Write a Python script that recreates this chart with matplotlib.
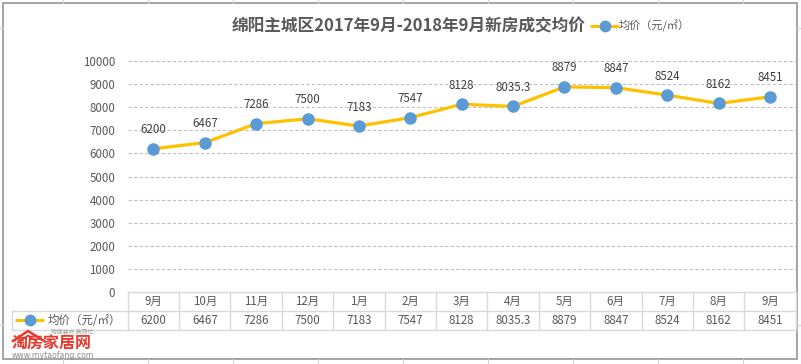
import matplotlib.pyplot as plt
from matplotlib.transforms import blended_transform_factory
from matplotlib.patches import Rectangle

plt.rcParams['font.family'] = ['Noto Sans CJK SC', 'DejaVu Sans']

months = ['9月', '10月', '11月', '12月', '1月', '2月', '3月', '4月', '5月', '6月', '7月', '8月', '9月']
price = [6200, 6467, 7286, 7500, 7183, 7547, 8128, 8035.3, 8879, 8847, 8524, 8162, 8451]
yticks = [0, 1000, 2000, 3000, 4000, 5000, 6000, 7000, 8000, 9000, 10000]
series_name = '均价（元/㎡）'
title = '绵阳主城区2017年9月-2018年9月新房成交均价'

W, H = 801, 364
LINE = '#FFC000'
DOT = '#5B9BD5'
TXT = '#595959'
GRID = '#D9D9D9'

fig = plt.figure(figsize=(W / 100, H / 100), dpi=100)

# overlay in pixel coords (top-left origin) for frame, table, legend, logo
bg = fig.add_axes([0, 0, 1, 1])
bg.set_xlim(0, W)
bg.set_ylim(H, 0)
bg.axis('off')

# excel sheet gridlines peeking out around the chart
for x in [63, 148, 233, 318, 403, 488, 573, 658, 743]:
    bg.plot([x, x], [0, 3], color='#D4D4D4', lw=0.8)
    bg.plot([x, x], [359, H], color='#D4D4D4', lw=0.8)
for y in [28, 325]:
    bg.plot([0, 2.5], [y, y], color='#D4D4D4', lw=0.8)
    bg.plot([797, W], [y, y], color='#D4D4D4', lw=0.8)

# chart frame
bg.add_patch(Rectangle((2.5, 3.2), 794.5, 355.8, fill=False, edgecolor='#8C8C8C', lw=1.1))

# title
bg.text(409, 26, title, ha='center', va='center', fontsize=12, fontweight='bold', color=TXT)

# legend at top
bg.plot([590, 619], [26, 26], color=LINE, lw=2.2, solid_capstyle='butt')
bg.plot([605], [26], 'o', color=DOT, ms=7.5)
bg.text(619, 26, series_name, ha='left', va='center', fontsize=8, color=TXT)

# main plot
left, right, top, bot = 127.7, 795.7, 61, 292
ax = fig.add_axes([left / W, 1 - bot / H, (right - left) / W, (bot - top) / H])
ax.set_facecolor('none')
ax.set_zorder(2)
n = len(months)
xs = list(range(n))
ax.set_xlim(-0.5, n - 0.5)
ax.set_ylim(0, 10000)
ax.set_yticks(yticks)
ax.set_yticklabels([str(v) for v in yticks], fontsize=8.3, color=TXT)
ax.tick_params(axis='y', length=0, pad=9)
ax.set_xticks([])
for s in ax.spines.values():
    s.set_visible(False)
for v in yticks[1:]:
    ax.axhline(v, color='#BFBFBF', lw=0.8, ls=(0, (3, 2)), zorder=0)

ax.plot(xs, price, color=LINE, lw=2.3, zorder=3, clip_on=False)
ax.plot(xs, price, 'o', color=DOT, ms=8, zorder=4, clip_on=False)
for x, v in zip(xs, price):
    ax.annotate('{:g}'.format(v), (x, v), xytext=(0, 19), textcoords='offset pixels',
                ha='center', va='center', fontsize=8.3, color='#404040')

# data table under the axis
tr = blended_transform_factory(ax.transData, bg.transData)
r0, r1, r2 = 292, 311, 329.5
bg.plot([left, right], [r0, r0], color=GRID, lw=1)
bg.plot([left, right], [r1, r1], color=GRID, lw=1)
bg.plot([12.3, left], [r1, r1], color=GRID, lw=1)
bg.plot([12.3, right], [r2, r2], color=GRID, lw=1)
bg.plot([12.3, 12.3], [r1, r2], color=GRID, lw=1)
for i in range(n + 1):
    ax.plot([i - 0.5, i - 0.5], [r0, r2], color=GRID, lw=1, transform=tr, clip_on=False)
for x, m, v in zip(xs, months, price):
    ax.text(x, 301.5, m, transform=tr, ha='center', va='center', fontsize=8.3, color=TXT)
    ax.text(x, 320.5, '{:g}'.format(v), transform=tr, ha='center', va='center', fontsize=8.3, color=TXT)

bg.plot([15, 44], [320, 320], color=LINE, lw=2.2, solid_capstyle='butt')
bg.plot([30], [320], 'o', color=DOT, ms=7.5)
bg.text(48, 320, series_name, ha='left', va='center', fontsize=8.3, color=TXT)

# watermark logo
RED = '#E8392E'
bg.plot([13, 28, 44], [341, 331, 341], color=RED, lw=1.8, solid_joinstyle='miter')
bg.plot([20, 28, 36], [341, 335.5, 341], color=RED, lw=1.3)
bg.text(51, 332.5, '购房装修 我帮忙', ha='left', va='center', fontsize=4.2, color='#9A9A9A')
bg.text(12, 344, '淘房家居网', ha='left', va='center', fontsize=11.5, fontweight='bold', color=RED)
bg.text(12, 355.5, 'www.mytaofang.com', ha='left', va='center', fontsize=5.6, color='#8C8C8C',
        family='DejaVu Sans')

fig.savefig('out.png', dpi=100)
